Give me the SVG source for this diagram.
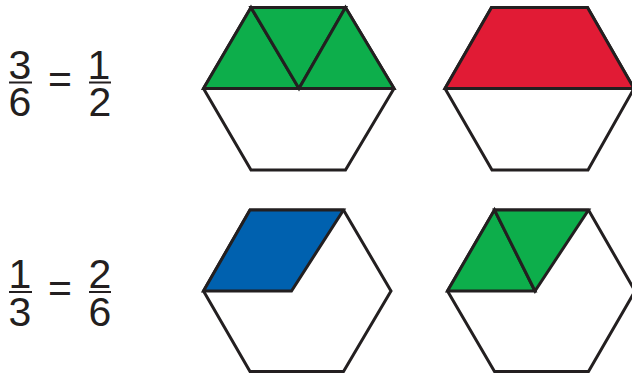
<svg xmlns="http://www.w3.org/2000/svg" width="632" height="373" viewBox="0 0 632 373">
<style>
.e{stroke:#231f20;stroke-width:3;stroke-linejoin:miter}
.w{fill:#ffffff}
.g{fill:#0dae4b}
.r{fill:#e11b35}
.b{fill:#0061af}
.t{font-family:"Liberation Sans",Arial,sans-serif;font-size:41px;fill:#231f20;text-anchor:middle}
.bar{stroke:#231f20;stroke-width:2}
</style>
<rect width="632" height="373" fill="#ffffff"/>
<g id="eq1">
<text class="t" x="20" y="79">3</text>
<line class="bar" x1="9" y1="82.5" x2="32" y2="82.5"/>
<text class="t" x="20" y="116">6</text>
<text class="t" x="60" y="93">=</text>
<text class="t" x="99" y="79">1</text>
<line class="bar" x1="89" y1="82.5" x2="111" y2="82.5"/>
<text class="t" x="100" y="116">2</text>
</g>
<g id="eq2">
<text class="t" x="20" y="288">1</text>
<line class="bar" x1="9" y1="292" x2="32" y2="292"/>
<text class="t" x="20" y="326">3</text>
<text class="t" x="60" y="302">=</text>
<text class="t" x="100" y="288">2</text>
<line class="bar" x1="89" y1="292" x2="111" y2="292"/>
<text class="t" x="100" y="326">6</text>
</g>
<g id="hex1">
<polygon class="e w" points="251,7.5 345.5,7.5 394,88.5 345.5,170 251,170 203.5,88.5"/>
<polygon class="e g" points="203.5,88.5 251,7.5 299,88.5"/>
<polygon class="e g" points="251,7.5 345.5,7.5 299,88.5"/>
<polygon class="e g" points="345.5,7.5 394,88.5 299,88.5"/>
</g>
<g id="hex2">
<polygon class="e w" points="491.5,7.5 587.5,7.5 634,88.5 588,170 492,170 445,88.5"/>
<polygon class="e r" points="445,88.5 491.5,7.5 587.5,7.5 634,88.5"/>
</g>
<g id="hex3">
<polygon class="e w" points="250,210 343.5,210 391,291 343.5,371.5 250,371.5 203.5,291"/>
<polygon class="e b" points="203.5,291 250,210 343.5,210 291.5,291"/>
</g>
<g id="hex4">
<polygon class="e w" points="494.5,210 588.5,210 635,291 588.5,371.5 494.5,371.5 447.5,291"/>
<polygon class="e g" points="447.5,291 494.5,210 535,291"/>
<polygon class="e g" points="494.5,210 588.5,210 535,291"/>
</g>
</svg>
